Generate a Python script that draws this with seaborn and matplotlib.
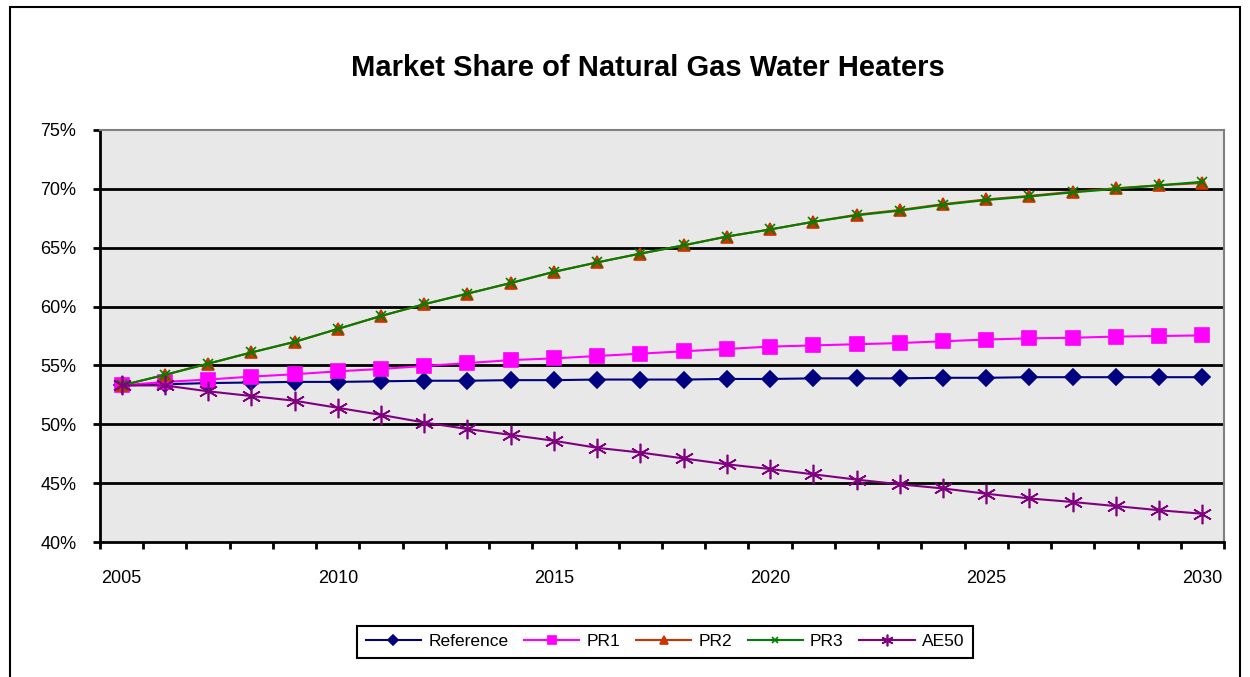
import pandas as pd
import matplotlib.pyplot as plt
import seaborn as sns
from matplotlib.patches import Rectangle
from matplotlib.ticker import FuncFormatter

# Values (market share in %)
years = list(range(2005, 2031))
reference = [53.3, 53.4, 53.5, 53.55, 53.6, 53.6, 53.65, 53.7, 53.7, 53.75, 53.75, 53.8, 53.8,
             53.8, 53.85, 53.85, 53.9, 53.9, 53.9, 53.95, 53.95, 54.0, 54.0, 54.0, 54.0, 54.0]
pr1 = [53.3, 53.6, 53.8, 54.05, 54.25, 54.5, 54.7, 54.95, 55.2, 55.45, 55.6, 55.8, 56.0,
       56.2, 56.4, 56.6, 56.7, 56.8, 56.9, 57.05, 57.2, 57.3, 57.35, 57.45, 57.5, 57.55]
pr2 = [53.3, 54.2, 55.15, 56.1, 57.0, 58.1, 59.2, 60.2, 61.1, 62.0, 62.95, 63.75, 64.5,
       65.2, 65.95, 66.55, 67.2, 67.8, 68.2, 68.7, 69.1, 69.4, 69.75, 70.05, 70.3, 70.5]
pr3 = [53.3, 54.2, 55.15, 56.1, 57.0, 58.1, 59.2, 60.2, 61.1, 62.0, 62.95, 63.75, 64.5,
       65.2, 65.95, 66.55, 67.2, 67.75, 68.15, 68.65, 69.05, 69.35, 69.7, 70.0, 70.3, 70.6]
ae50 = [53.3, 53.3, 52.8, 52.4, 52.0, 51.4, 50.8, 50.15, 49.6, 49.1, 48.6, 48.0, 47.6,
        47.1, 46.6, 46.2, 45.75, 45.3, 44.9, 44.55, 44.1, 43.7, 43.4, 43.05, 42.7, 42.4]
y_ticks = [40, 45, 50, 55, 60, 65, 70, 75]
x_labels = [2005, 2010, 2015, 2020, 2025, 2030]

df = pd.DataFrame({'Year': years, 'Reference': reference, 'PR1': pr1,
                   'PR2': pr2, 'PR3': pr3, 'AE50': ae50})

plt.rcParams['font.family'] = ['Liberation Sans', 'DejaVu Sans']

fig = plt.figure(figsize=(12.5, 6.77), dpi=100)
ax = fig.add_axes([0.08, 0.1994, 0.8992, 0.6086])
ax.set_facecolor('#e8e8e8')

# Series styles: (colour, marker, size)
styles = {
    'Reference': ('#000080', 'D', 8),
    'PR1': ('#ff00ff', 's', 10),
    'PR2': ('#cc3300', '^', 9),
    'PR3': ('#008000', 'x', 7),
    'AE50': ('#800080', (6, 2, 0), 14),
}
for name, (col, mk, ms) in styles.items():
    sns.lineplot(data=df, x='Year', y=name, ax=ax, color=col, marker=mk,
                 markersize=ms, markeredgecolor=col, markeredgewidth=1.2,
                 linewidth=1.5, label=name, legend=False, zorder=3)

# Horizontal gridlines
for v in y_ticks[1:-1]:
    ax.axhline(v, color='black', linewidth=2, zorder=1)

ax.set_xlim(2004.5, 2030.5)
ax.set_ylim(40, 75)
ax.set_yticks(y_ticks)
ax.yaxis.set_major_formatter(FuncFormatter(lambda v, _: f'{v:.0f}%'))
ax.tick_params(axis='y', length=5, width=2, pad=12, labelsize=13)

# Ticks between categories, labels on the categories
ax.set_xticks([y + 0.5 for y in range(2004, 2031)])
ax.set_xticklabels([])
ax.tick_params(axis='x', which='major', length=5, width=2)
ax.set_xticks(x_labels, minor=True)
ax.set_xticklabels([str(x) for x in x_labels], minor=True)
ax.tick_params(axis='x', which='minor', length=0, pad=20, labelsize=13)

ax.set_xlabel('')
ax.set_ylabel('')
ax.grid(False)
for s in ['left', 'bottom']:
    ax.spines[s].set_linewidth(2)
    ax.spines[s].set_color('black')
for s in ['top', 'right']:
    ax.spines[s].set_linewidth(1.5)
    ax.spines[s].set_color('#808080')

fig.text(0.518, 1 - 68 / 677, 'Market Share of Natural Gas Water Heaters',
         ha='center', va='center', fontsize=21, fontweight='bold')

handles, labels = ax.get_legend_handles_labels()
leg = fig.legend(handles, labels, loc='center', bbox_to_anchor=(0.532, 0.052), ncol=5,
                 fontsize=12.5, frameon=True, fancybox=False, edgecolor='black',
                 framealpha=1, handlelength=3.2, columnspacing=0.9, handletextpad=0.4,
                 borderpad=0.5, markerscale=0.6)
leg.get_frame().set_linewidth(1.5)

# Outer chart border
fig.patches.append(Rectangle((10 / 1250, -0.02), 1230 / 1250, 1 - 7 / 677 + 0.02,
                             transform=fig.transFigure, fill=False,
                             edgecolor='black', linewidth=1.5))

plt.savefig('out.png', dpi=100)
